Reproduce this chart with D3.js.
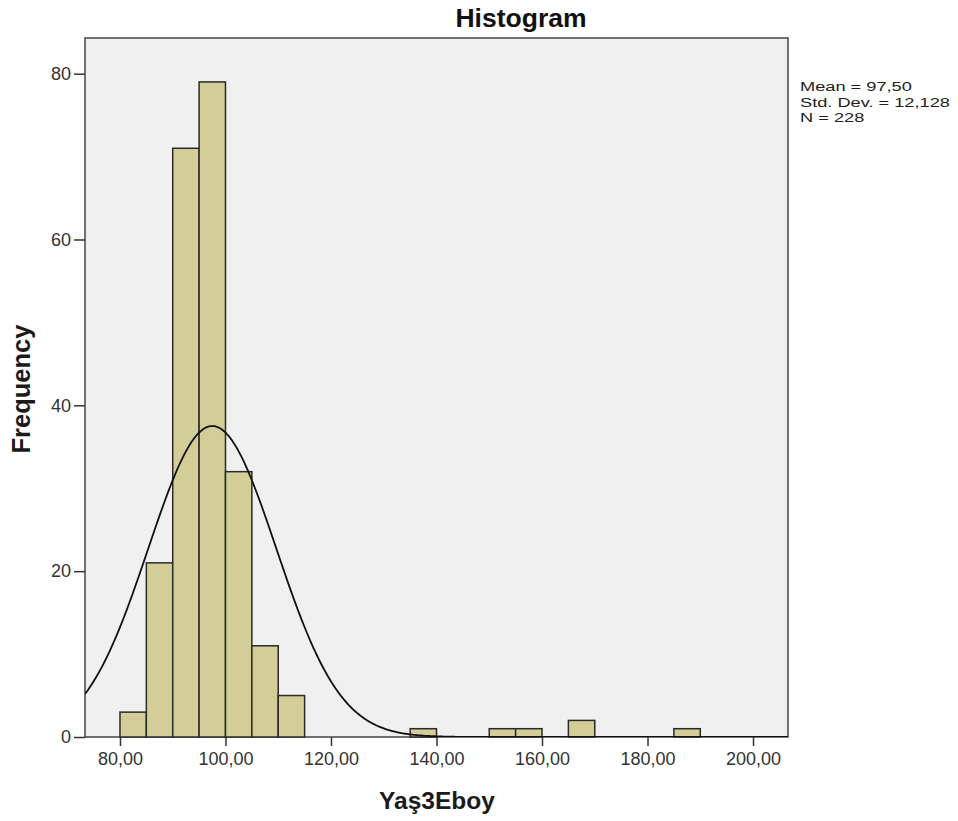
<!DOCTYPE html>
<html><head><meta charset="utf-8">
<script src="https://cdn.jsdelivr.net/npm/d3@7"></script>
<style>body{margin:0;background:#fff;}svg{display:block;font-family:"Liberation Sans",Arial,sans-serif;}</style>
</head><body>
<svg id="c" width="958" height="821"></svg>
<script>
const binStarts = [80, 85, 90, 95, 100, 105, 110, 135, 150, 155, 165, 185];
const binCounts = [3, 21, 71, 79, 32, 11, 5, 1, 1, 1, 2, 1];
const binWidth = [5];
const xTicks = [80, 100, 120, 140, 160, 180, 200];
const yTicks = [0, 20, 40, 60, 80];
const stats = { mean: 97.50, sd: 12.128, n: 228 };
const statLines = ["Mean = 97,50", "Std. Dev. = 12,128", "N = 228"];

const svg = d3.select("#c");
const L = 85, R = 788, T = 38, B = 737;
const x = d3.scaleLinear().domain([73.37, 206.63]).range([L, R]);
const y = d3.scaleLinear().domain([0, 84.3]).range([B, T]);

svg.append("rect").attr("x", L).attr("y", T).attr("width", R - L).attr("height", B - T)
  .attr("fill", "#f0f0f0").attr("stroke", "#444").attr("stroke-width", 1.5);

svg.append("clipPath").attr("id", "pc").append("rect")
  .attr("x", L).attr("y", T).attr("width", R - L).attr("height", B - T);

svg.append("g").selectAll("rect").data(binStarts.map((s, i) => ({ s, c: binCounts[i] })))
  .join("rect")
  .attr("x", d => x(d.s)).attr("width", d => x(d.s + binWidth[0]) - x(d.s))
  .attr("y", d => y(d.c)).attr("height", d => y(0) - y(d.c))
  .attr("fill", "#d3ce98").attr("stroke", "#2a2a2a").attr("stroke-width", 1.5);

// fitted normal curve from the reported mean / std. dev. / N
const k = stats.n * binWidth[0] / (stats.sd * Math.sqrt(2 * Math.PI));
const xs = d3.range(73.37, 206.7, 0.25);
const line = d3.line().x(v => x(v)).y(v => y(k * Math.exp(-0.5 * ((v - stats.mean) / stats.sd) ** 2)));
svg.append("path").datum(xs).attr("d", line).attr("fill", "none").attr("stroke", "#111")
  .attr("stroke-width", 1.8).attr("clip-path", "url(#pc)");

// axes
const xa = svg.append("g").attr("transform", `translate(0,${B})`)
  .call(d3.axisBottom(x).tickValues(xTicks).tickSize(9).tickPadding(6).tickFormat(d => d3.format(".2f")(d).replace(".", ",")));
const ya = svg.append("g").attr("transform", `translate(${L},0)`)
  .call(d3.axisLeft(y).tickValues(yTicks).tickSize(11).tickPadding(3).tickFormat(d3.format("d")));
[xa, ya].forEach(a => {
  a.select(".domain").remove();
  a.selectAll("line").attr("stroke", "#333").attr("stroke-width", 1.5);
  a.selectAll("text").attr("fill", "#333").style("font-size", "18px").style("font-family", "'Liberation Sans',Arial,sans-serif");
});

svg.append("text").attr("x", 521).attr("y", 27).attr("text-anchor", "middle")
  .style("font-size", "26.5px").style("font-weight", "bold").attr("fill", "#111").text("Histogram");
svg.append("text").attr("x", 437).attr("y", 809).attr("text-anchor", "middle")
  .style("font-size", "24.5px").style("font-weight", "bold").attr("fill", "#1a1a1a").text("Yaş3Eboy");
svg.append("text").attr("transform", "translate(30,389) rotate(-90)").attr("text-anchor", "middle")
  .style("font-size", "25.5px").style("font-weight", "bold").attr("fill", "#1a1a1a").text("Frequency");

svg.append("g").selectAll("text").data(statLines).join("text")
  .attr("transform", (d, i) => `translate(800,${91 + i * 15.5}) scale(1.35,1)`)
  .style("font-size", "13.5px").attr("fill", "#222").text(d => d);
</script>
</body></html>
